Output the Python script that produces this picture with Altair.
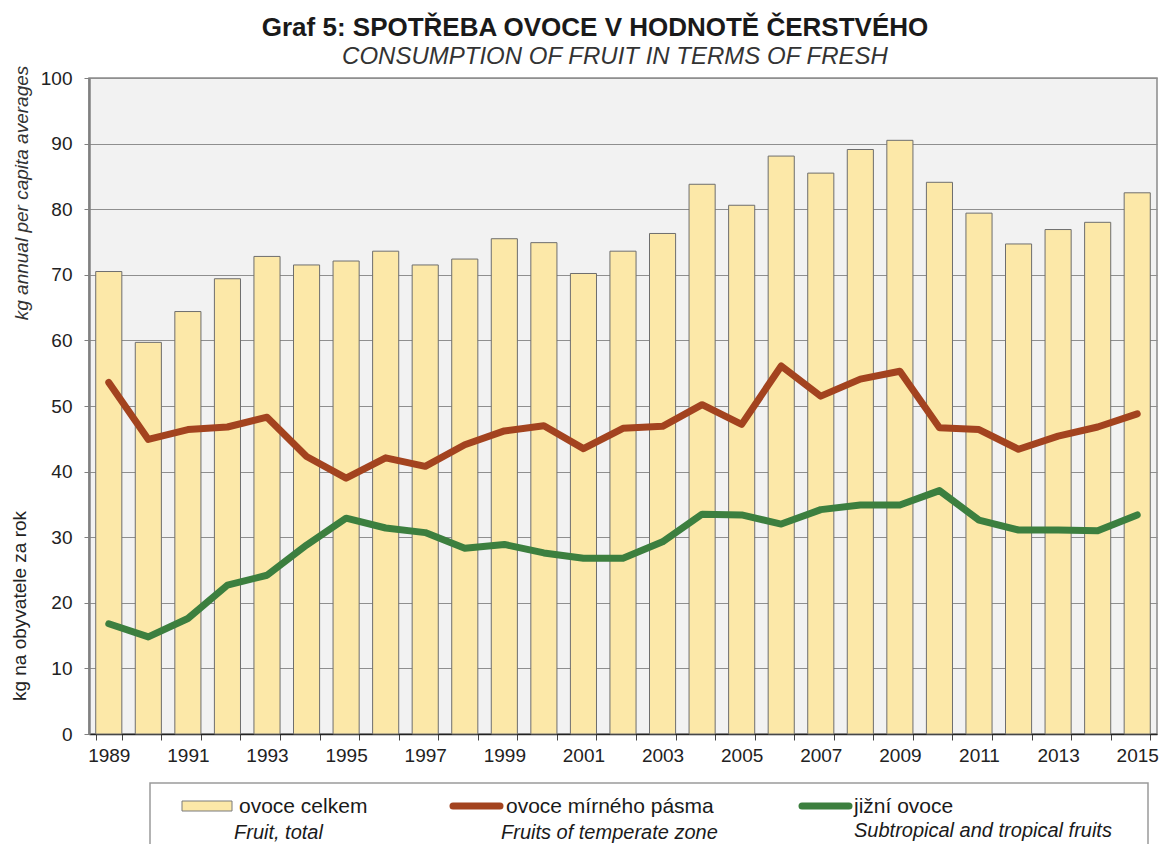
import altair as alt
import pandas as pd

years = [str(y) for y in range(1989, 2016)]
total = [70.5, 59.7, 64.4, 69.4, 72.8, 71.5, 72.1, 73.6, 71.5, 72.4, 75.5, 74.9, 70.2, 73.6,
         76.3, 83.8, 80.6, 88.1, 85.5, 89.1, 90.5, 84.1, 79.4, 74.7, 76.9, 78.0, 82.5]
temperate = [53.6, 44.9, 46.4, 46.8, 48.3, 42.3, 39.0, 42.1, 40.8, 44.1, 46.2, 47.0, 43.5, 46.6,
             46.9, 50.2, 47.2, 56.1, 51.5, 54.1, 55.3, 46.7, 46.4, 43.4, 45.4, 46.8, 48.8]
subtropical = [16.8, 14.8, 17.6, 22.7, 24.2, 28.8, 32.9, 31.4, 30.7, 28.3, 28.9, 27.6, 26.8, 26.8,
               29.3, 33.5, 33.4, 32.0, 34.2, 34.9, 34.9, 37.1, 32.6, 31.1, 31.1, 31.0, 33.4]

title_cz = "Graf 5: SPOTŘEBA OVOCE V HODNOTĚ ČERSTVÉHO"
title_en = "CONSUMPTION OF FRUIT IN TERMS OF FRESH"
ytitle_cz = "kg na obyvatele za rok"
ytitle_en = "kg annual per capita averages"
legend_cz = ["ovoce celkem", "ovoce mírného pásma", "jižní ovoce"]
legend_en = ["Fruit, total", "Fruits of temperate zone", "Subtropical and tropical fruits"]

FONT = "Liberation Sans"
BAR_FILL = "#fce8a8"
RED = "#a3431f"
GREEN = "#3c7f3f"

df = pd.DataFrame({"year": years, "total": total, "temperate": temperate, "subtropical": subtropical})

W, H = 1068, 656

xscale = alt.Scale(paddingInner=0.34, paddingOuter=0.17)
xenc = alt.X("year:N", scale=xscale, title=None,
             axis=alt.Axis(tickBand="extent", labelAngle=0, labelFontSize=19, labelFont=FONT,
                           labelColor="#222", tickColor="#444", tickSize=6, labelPadding=6,
                           domainColor="#222", domainWidth=1.5, grid=False,
                           labelExpr="parseInt(datum.value) % 2 == 1 ? datum.value : ''"))
yscale = alt.Scale(domain=[0, 100], nice=False)

bars = alt.Chart(df).mark_bar(fill=BAR_FILL, stroke="#6e6e6e", strokeWidth=1).encode(
    x=xenc,
    y=alt.Y("total:Q", scale=yscale, title=None,
            axis=alt.Axis(values=list(range(0, 101, 10)), labelFontSize=19, labelFont=FONT,
                          labelColor="#222", tickColor="#808080", tickSize=5, labelPadding=12,
                          domainColor="#808080", domainWidth=2.5,
                          grid=True, gridColor="#8f8f8f", gridWidth=1)),
)

line_t = alt.Chart(df).mark_line(color=RED, strokeWidth=7, strokeCap="round", strokeJoin="round").encode(
    x=alt.X("year:N", scale=xscale), y=alt.Y("temperate:Q", scale=yscale))
line_s = alt.Chart(df).mark_line(color=GREEN, strokeWidth=7, strokeCap="round", strokeJoin="round").encode(
    x=alt.X("year:N", scale=xscale), y=alt.Y("subtropical:Q", scale=yscale))

one = pd.DataFrame({"a": [0]})


def txt(text, x, y, size, align="left", style="normal", weight="normal", angle=0, color="#1a1a1a"):
    kw = dict(text=text, fontSize=size, font=FONT, align=align, baseline="middle",
              fontStyle=style, fontWeight=weight, color=color)
    if angle:
        kw["angle"] = angle
    return alt.Chart(one).mark_text(**kw).encode(x=alt.value(x), y=alt.value(y))


t1 = txt(title_cz, 506, -50, 26, align="center", weight="bold")
t2 = txt(title_en, 526, -21, 24, align="center", style="italic", color="#333")
yt1 = txt(ytitle_en, -67, 115, 19, align="center", style="italic", angle=270, color="#333")
yt2 = txt(ytitle_cz, -69, 528, 19, align="center", angle=270, color="#222")

legbox = alt.Chart(one).mark_rect(fill="white", stroke="#9a9a9a", strokeWidth=1.5).encode(
    x=alt.value(61), x2=alt.value(1059), y=alt.value(705), y2=alt.value(800))
sw1 = alt.Chart(one).mark_rect(fill=BAR_FILL, stroke="#7a7a7a", strokeWidth=1).encode(
    x=alt.value(93), x2=alt.value(143), y=alt.value(723), y2=alt.value(733))
sw2 = alt.Chart(one).mark_rule(color=RED, strokeWidth=7, strokeCap="round").encode(
    x=alt.value(364), x2=alt.value(411), y=alt.value(728))
sw3 = alt.Chart(one).mark_rule(color=GREEN, strokeWidth=7, strokeCap="round").encode(
    x=alt.value(713), x2=alt.value(760), y=alt.value(728))
l1 = txt(legend_cz[0], 150, 729, 21)
l2 = txt(legend_cz[1], 417, 729, 21)
l3 = txt(legend_cz[2], 765, 729, 21)
e1 = txt(legend_en[0], 145, 755, 20, style="italic")
e2 = txt(legend_en[1], 412, 755, 20, style="italic")
e3 = txt(legend_en[2], 765, 753, 20, style="italic")

chart = alt.layer(
    bars, line_t, line_s, t1, t2, yt1, yt2, legbox, sw1, sw2, sw3, l1, l2, l3, e1, e2, e3
).properties(
    width=W, height=H,
    autosize=alt.AutoSizeParams(type="none"),
    padding={"left": 81, "top": 70, "right": 3, "bottom": 110},
    background="white",
).configure_view(
    fill="#f2f2f2", stroke="#8a8a8a", strokeWidth=1.5
)

chart.save("out.html", embed_options={"renderer": "svg", "actions": False})
